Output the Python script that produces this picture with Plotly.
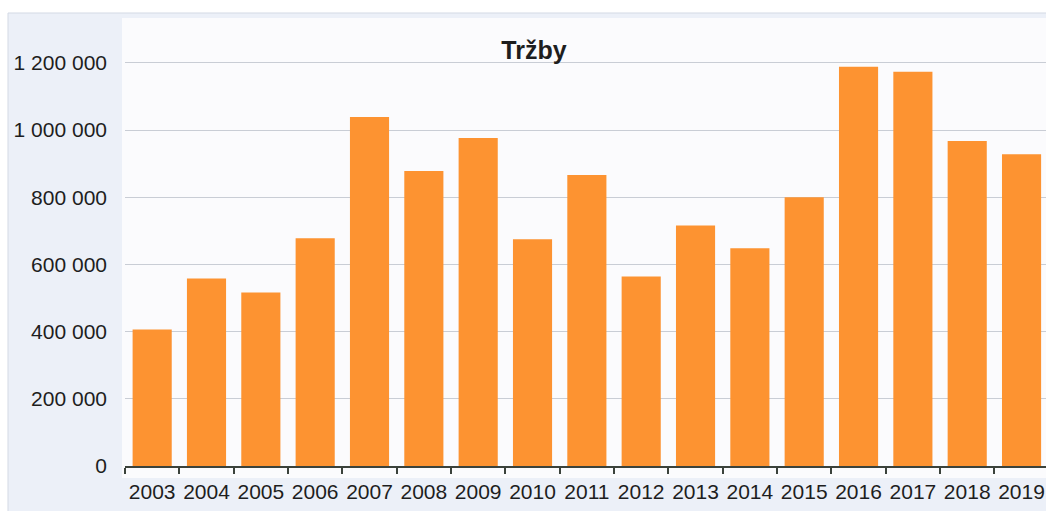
import plotly.graph_objects as go

years = ["2003", "2004", "2005", "2006", "2007", "2008", "2009", "2010", "2011",
         "2012", "2013", "2014", "2015", "2016", "2017", "2018", "2019"]
trzby = [406000, 558000, 516000, 678000, 1039000, 878000, 976000, 675000, 866000,
         564000, 716000, 648000, 800000, 1188000, 1173000, 967000, 928000]
y_tickvals = [0, 200000, 400000, 600000, 800000, 1000000, 1200000]
y_ticktext = ["0", "200 000", "400 000", "600 000", "800 000", "1 000 000", "1 200 000"]

W, H = 1046, 511
L, R, T, B = 125, 0, 46, 45
pw, ph = W - L - R, H - T - B


def px_x(p):
    return (p - L) / pw


def px_y(p):
    return (H - B - p) / ph


fig = go.Figure(go.Bar(
    x=years, y=trzby,
    marker=dict(color="#fd9331", line=dict(width=0)),
    width=0.72,
))

fig.update_layout(
    width=W, height=H, autosize=False,
    margin=dict(l=L, r=R, t=T, b=B),
    paper_bgcolor="#ffffff",
    plot_bgcolor="rgba(0,0,0,0)",
    showlegend=False,
    font=dict(family="Liberation Sans, Arial, sans-serif", size=21, color="#1e1e1e"),
    title=dict(text="<b>Tržby</b>", x=px_x(534), xref="paper", xanchor="center",
               y=1 - 50 / H, yref="container", yanchor="middle",
               font=dict(size=25, color="#1e1e1e")),
    shapes=[
        dict(type="rect", xref="paper", yref="paper", layer="below",
             x0=px_x(8), x1=px_x(W + 5), y0=px_y(H + 5), y1=px_y(13),
             fillcolor="#ecf0f8", line=dict(color="#d3d9e4", width=1)),
        dict(type="rect", xref="paper", yref="paper", layer="below",
             x0=px_x(122), x1=px_x(W + 5), y0=px_y(478), y1=px_y(18),
             fillcolor="#fbfbfd", line=dict(width=0)),
    ],
)
fig.update_xaxes(
    type="category", range=[-0.5, 16.45],
    showline=True, linecolor="#3b423b", linewidth=2,
    ticks="outside", tickson="boundaries", ticklen=6, tickcolor="#3b423b", tickwidth=2,
    showgrid=False, tickfont=dict(size=21), tickangle=0, ticklabelstandoff=6,
)
fig.update_yaxes(
    range=[0, 1250000], tickvals=y_tickvals, ticktext=y_ticktext,
    showgrid=True, gridcolor="#c9cdd5", gridwidth=1, zeroline=False,
    ticks="", ticklabelstandoff=17, tickfont=dict(size=21),
)

fig.write_html(
    "out.html",
    config={"displayModeBar": False, "responsive": False},
    post_script=(
        "document.body.style.margin='0';"
        "document.body.style.overflow='hidden';"
        "document.documentElement.style.overflow='hidden';"
    ),
)
